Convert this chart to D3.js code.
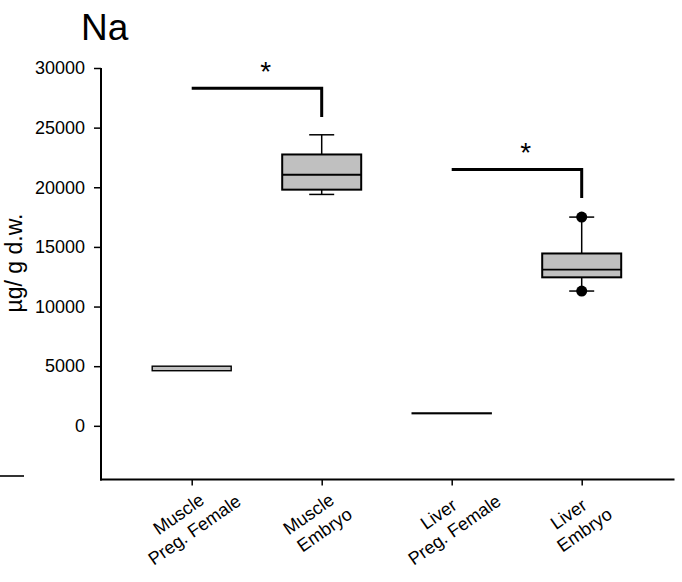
<!DOCTYPE html>
<html><head><meta charset="utf-8">
<script src="https://cdn.jsdelivr.net/npm/d3@7"></script>
<style>body{margin:0;background:#fff}svg{display:block}text{font-family:"Liberation Sans",Arial,sans-serif;fill:#000}</style>
</head><body><svg id="c" width="682" height="582"></svg>
<script>
const categories = ["Muscle|Preg. Female", "Muscle|Embryo", "Liver|Preg. Female", "Liver|Embryo"];
const q1 = [4620, 19800, 1020, 12450];
const median = [4820, 21050, 1050, 13100];
const q3 = [5000, 22750, 1080, 14450];
const whiskLow = [null, 19400, null, 11300];
const whiskHigh = [null, 24400, null, 17500];
const outliers = [[], [], [], [17500, 11300]];
const yTicks = [0, 5000, 10000, 15000, 20000, 25000, 30000];
const brackets = [{from: 0, to: 1, level: 28300, drop: 25900}, {from: 2, to: 3, level: 21500, drop: 19100}];

const svg = d3.select("#c");
const y = d3.scaleLinear().domain([-4500, 30000]).range([479.5, 68]);
const x = d3.scalePoint().domain(categories).range([191.7, 581.7]);
const bw = 79;
const FF = '"Liberation Sans",Arial,sans-serif';

// title
svg.append("text").attr("x", 81).attr("y", 40).attr("font-size", 37).text("Na");

// stray fragment bottom-left
svg.append("line").attr("x1", 0).attr("x2", 24).attr("y1", 476).attr("y2", 476).attr("stroke", "#333").attr("stroke-width", 2);

// y axis
const ya = svg.append("g").attr("transform", "translate(101,0)")
  .call(d3.axisLeft(y).tickValues(yTicks).tickSize(7).tickSizeOuter(0).tickFormat(d3.format("d")));
ya.select(".domain").attr("stroke-width", 2).attr("d", `M0,${y.range()[1]}V${y.range()[0]+1}`);
ya.selectAll(".tick line").attr("stroke-width", 1.5);
ya.selectAll(".tick text").attr("font-size", 18).attr("x", -16).style("font-family", FF);

// x axis
const xa = svg.append("g").attr("transform", "translate(0,479.5)")
  .call(d3.axisBottom(x).tickSize(6).tickSizeOuter(0).tickFormat(""));
xa.select(".domain").attr("stroke-width", 2).attr("d", "M100,0H674.5");
xa.selectAll(".tick line").attr("stroke-width", 1.5);

// x labels
categories.forEach(c => {
  const parts = c.split("|");
  const g = svg.append("g").attr("transform", `translate(${x(c)-8},${518}) rotate(-35)`);
  g.append("text").attr("text-anchor", "middle").attr("font-size", 18).attr("x", -2).attr("y", 0).text(parts[0]);
  g.append("text").attr("text-anchor", "middle").attr("font-size", 18).attr("x", 2).attr("y", 22).text(parts[1]);
});

// y label
svg.append("text").attr("transform", "translate(22,263) rotate(-90)").attr("text-anchor", "middle")
  .attr("font-size", 23).text("µg/ g d.w.");

// boxes
categories.forEach((c, i) => {
  const cx = x(c);
  const g = svg.append("g");
  if (whiskHigh[i] != null) {
    g.append("line").attr("x1", cx).attr("x2", cx).attr("y1", y(q3[i])).attr("y2", y(whiskHigh[i])).attr("stroke", "#000").attr("stroke-width", 1.5);
    g.append("line").attr("x1", cx - 12.5).attr("x2", cx + 12.5).attr("y1", y(whiskHigh[i])).attr("y2", y(whiskHigh[i])).attr("stroke", "#000").attr("stroke-width", 1.5);
  }
  if (whiskLow[i] != null) {
    g.append("line").attr("x1", cx).attr("x2", cx).attr("y1", y(q1[i])).attr("y2", y(whiskLow[i])).attr("stroke", "#000").attr("stroke-width", 1.5);
    g.append("line").attr("x1", cx - 12.5).attr("x2", cx + 12.5).attr("y1", y(whiskLow[i])).attr("y2", y(whiskLow[i])).attr("stroke", "#000").attr("stroke-width", 1.5);
  }
  const h = y(q1[i]) - y(q3[i]);
  g.append("rect").attr("x", cx - bw/2).attr("width", bw).attr("y", y(q3[i])).attr("height", Math.max(0.5, h))
    .attr("fill", "#c0c0c0").attr("stroke", "#000").attr("stroke-width", h > 10 ? 2 : 1.4);
  if (h > 10) {
    g.append("line").attr("x1", cx - bw/2).attr("x2", cx + bw/2).attr("y1", y(median[i])).attr("y2", y(median[i])).attr("stroke", "#000").attr("stroke-width", 1.8);
  }
  outliers[i].forEach(v => {
    g.append("circle").attr("cx", cx).attr("cy", y(v)).attr("r", 5.5).attr("fill", "#000");
  });
});

// significance brackets
brackets.forEach(b => {
  const x1 = x(categories[b.from]), x2 = x(categories[b.to]);
  svg.append("path").attr("d", `M${x1},${y(b.level)}H${x2}V${y(b.drop)}`).attr("fill", "none").attr("stroke", "#000").attr("stroke-width", 3);
  svg.append("text").attr("x", (x1 + x2) / 2 + 9).attr("y", y(b.level) - 7).attr("text-anchor", "middle").attr("font-size", 28).text("*");
});
</script></body></html>
